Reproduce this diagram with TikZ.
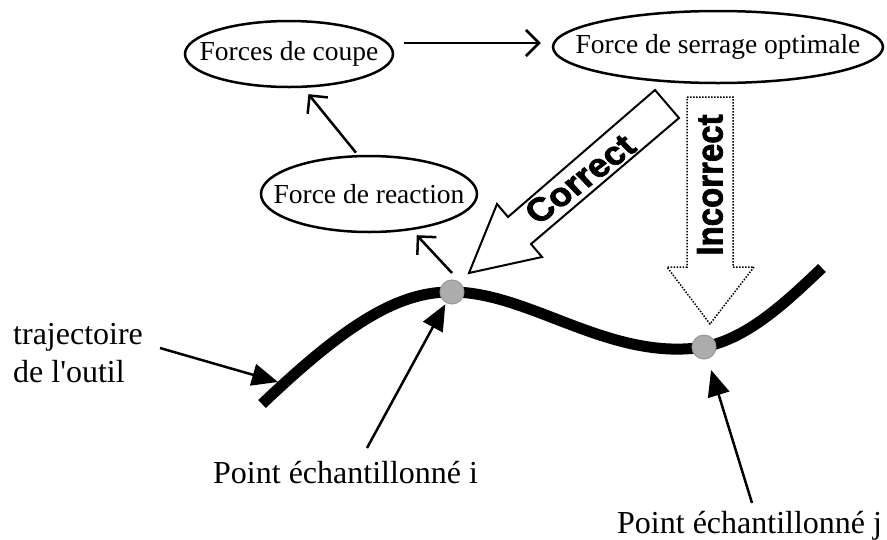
\documentclass[tikz,border=0pt]{standalone}
\usepackage{fontspec}
\setmainfont{Liberation Serif}
\newfontfamily\grasfont{Liberation Sans Bold}[FakeBold=2]
\usetikzlibrary{shapes.geometric,arrows.meta}

\newcommand{\bulletxt}[1]{\makebox[0pt]{#1}}

\begin{document}
\begin{tikzpicture}[x=1pt,y=-1pt,
  bulle/.style={draw,ellipse,line width=2.5pt,inner sep=0pt,
    font=\fontsize{27.5}{30}\selectfont},
  etiq/.style={inner sep=0pt,font=\fontsize{32}{38}\selectfont,align=left},
  barb/.style={line width=2.5pt,-{Straight Barb[length=13pt,width=26pt,line width=2.5pt]}},
  fleche/.style={line width=2.5pt,-{Triangle[length=26pt,width=22pt]}},
  bloc/.style={font=\grasfont\fontsize{33}{36}\selectfont,inner sep=0pt,xscale=1.12},
  echant/.style={fill=gray!65,draw=gray!80,line width=1pt}]
  \useasboundingbox (0,0) rectangle (887,539);

  % les trois forces
  \node[bulle,minimum width=208,minimum height=66] (E1) at (289,54) {\bulletxt{Forces de coupe}};
  \node[bulle,minimum width=330,minimum height=72] (E2) at (718,47) {\bulletxt{Force de serrage optimale}};
  \node[bulle,minimum width=216,minimum height=76] (E3) at (369,194) {\bulletxt{Force de reaction}};

  % trajectoire
  \coordinate (Pi) at (452,292);
  \coordinate (Pj) at (704,347);
  \draw[line width=11pt] (262,404) .. controls (340,330) and (395,291) .. (Pi)
    .. controls (530,292) and (610,362) .. (Pj)
    .. controls (750,338) and (790,298) .. (822,268);
  \filldraw[echant] (Pi) circle (12pt);
  \filldraw[echant] (Pj) circle (12pt);

  % fleches pleines
  \draw[line width=2pt] (655,90) -- (679,118) -- (531,244) -- (542,257)
    -- (469,273) -- (497,204) -- (508,217) -- cycle;
  \node[bloc,rotate=40.5] (correct) at (580,179) {Correct};
  \draw[line width=1.5pt,dash pattern=on 1.5pt off 1.5pt] (687,97) -- (733,97)
    -- (733,267) -- (754,267) -- (710,324) -- (667,267) -- (687,267) -- cycle;
  \node[bloc,rotate=90] (incorrect) at (710,185) {Incorrect};

  % etiquettes
  \node[etiq,anchor=west] (traj) at (13,353) {trajectoire\\de l\textquotesingle outil};
  \node[etiq,anchor=base west] (ptI) at (213,483) {Point échantillonné i};
  \node[etiq,anchor=base west] (ptJ) at (617,533) {Point échantillonné j};
  \coordinate (qt) at (160,348);
  \coordinate (ct) at (278,382);
  \coordinate (qi) at (367,448);
  \coordinate (qj) at (752,503);

  \draw[barb] ([shift={(10pt,11pt)}]E1.east) -- ([shift={(-11pt,4pt)}]E2.west);
  \draw[barb,shorten <=3pt,shorten >=8pt] (E3.106) -- (E1.-67);
  \draw[barb,shorten >=7pt] ([yshift=19pt]Pi) -- (E3.-40);
  \draw[fleche] (qt) -- (ct);
  \draw[fleche,shorten >=14pt] (qi) -- (Pi);
  \draw[fleche,shorten >=24pt] (qj) -- (Pj);
\end{tikzpicture}
\end{document}
